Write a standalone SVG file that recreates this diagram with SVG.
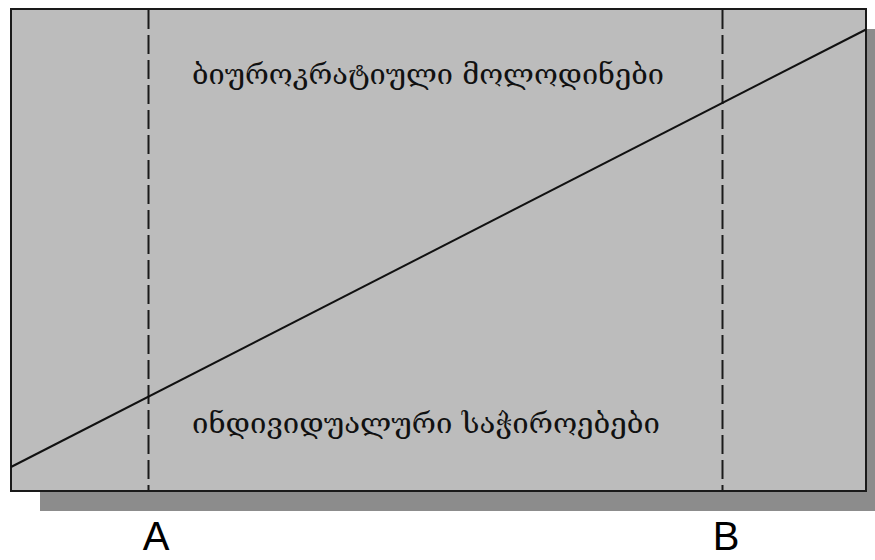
<svg xmlns="http://www.w3.org/2000/svg" width="875" height="560" viewBox="0 0 875 560">
<style>
.geo{font-family:"DejaVu Serif","DejaVu Sans",serif;font-size:28px;fill:#111}
.lbl{font-family:"Liberation Sans",Arial,sans-serif;font-size:40px;fill:#000;text-anchor:middle}
.dash{stroke:#1a1a1a;stroke-width:2;stroke-dasharray:19 6;fill:none}
</style>
<rect width="875" height="560" fill="#fff"/>
<g id="frame">
<rect x="40" y="29" width="840" height="482" fill="#8c8c8c"/>
<rect x="11" y="9" width="855" height="482" fill="#bcbcbc" stroke="#1a1a1a" stroke-width="2"/>
</g>
<g id="connectors">
<line class="dash" x1="148.5" y1="10" x2="148.5" y2="490"/>
<line class="dash" x1="722.5" y1="10" x2="722.5" y2="490"/>
<line x1="11" y1="467" x2="866" y2="29.5" stroke="#111" stroke-width="2"/>
</g>
<g id="top-label"><text class="geo" x="192" y="84" textLength="472" lengthAdjust="spacingAndGlyphs">ბიუროკრატიული მოლოდინები</text></g>
<g id="bottom-label"><text class="geo" x="192" y="433" textLength="468" lengthAdjust="spacingAndGlyphs">ინდივიდუალური საჭიროებები</text></g>
<g id="label-A"><text class="lbl" x="156" y="550">A</text></g>
<g id="label-B"><text class="lbl" x="726" y="550">B</text></g>
</svg>
